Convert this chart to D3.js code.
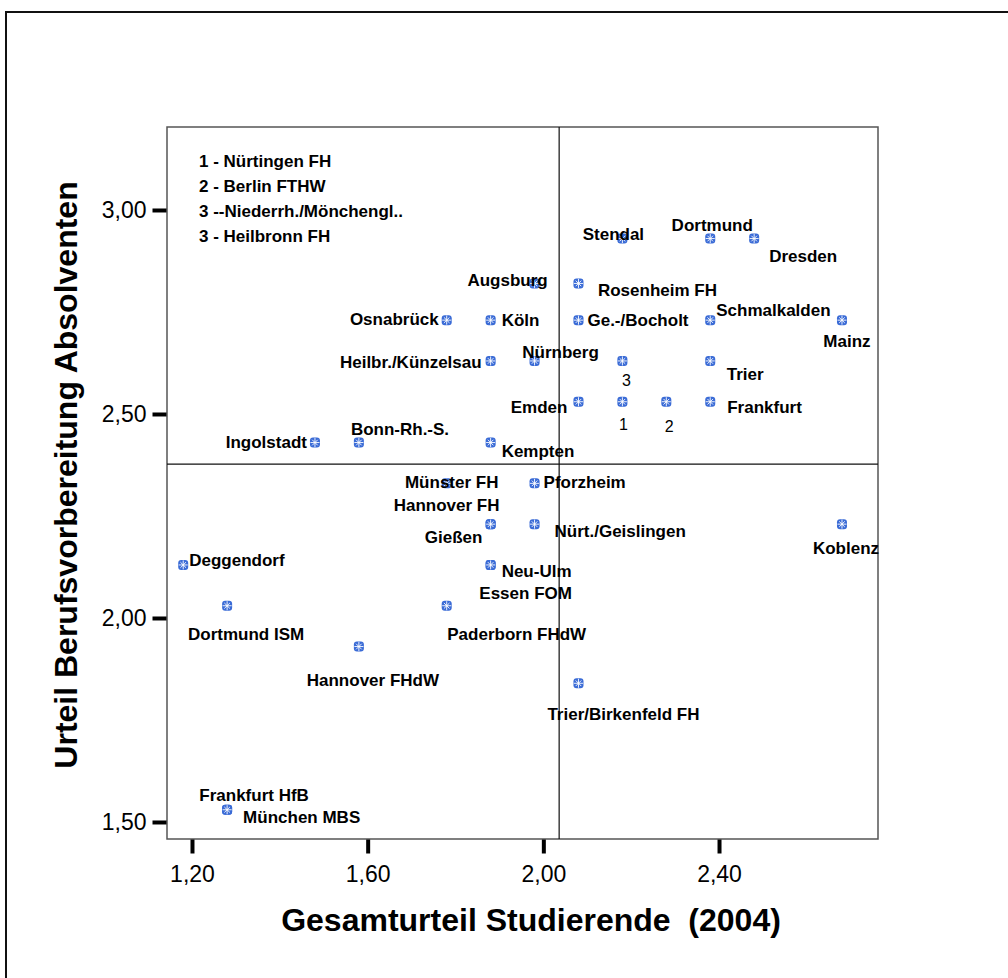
<!DOCTYPE html>
<html>
<head>
<meta charset="utf-8">
<script src="https://cdn.jsdelivr.net/npm/d3@7"></script>
<style>
  html, body { margin: 0; padding: 0; background: #fff; }
  svg { display: block; font-family: "Liberation Sans", Arial, sans-serif; }
</style>
</head>
<body>
<svg id="chart" width="1008" height="978"></svg>
<script>
// ---------- data ----------
const names = ["Stendal","Dortmund","Dresden","Augsburg","Rosenheim FH","Osnabrück","Köln","Ge.-/Bocholt",
  "Schmalkalden","Mainz","Heilbr./Künzelsau","Nürnberg","3","Trier","Emden","1","2","Frankfurt",
  "Ingolstadt","Bonn-Rh.-S.","Kempten","Münster FH","Pforzheim","Hannover FH","Gießen","Nürt./Geislingen",
  "Koblenz","Deggendorf","Neu-Ulm","Essen FOM","Dortmund ISM","Paderborn FHdW","Hannover FHdW",
  "Trier/Birkenfeld FH","Frankfurt HfB","München MBS"];
const studierende = [2.18,2.38,2.48,1.98,2.08,1.78,1.88,2.08,
  2.38,2.68,1.88,1.98,2.18,2.38,2.08,2.18,2.28,2.38,
  1.48,1.58,1.88,1.78,1.98,1.88,1.88,1.98,
  2.68,1.18,1.88,1.88,1.28,1.78,1.58,
  2.08,1.28,1.28];
const absolventen = [2.93,2.93,2.93,2.82,2.82,2.73,2.73,2.73,
  2.73,2.73,2.63,2.63,2.63,2.63,2.53,2.53,2.53,2.53,
  2.43,2.43,2.43,2.33,2.33,2.23,2.23,2.23,
  2.23,2.13,2.13,2.13,2.03,2.03,1.93,
  1.84,1.53,1.53];
const legendItems = ["1 - Nürtingen FH","2 - Berlin FTHW","3 --Niederrh./Mönchengl..","3 - Heilbronn FH"];
const xTicks = [1.2,1.6,2.0,2.4];
const yTicks = [1.5,2.0,2.5,3.0];
const xMean = 2.036;
const yMean = 2.377;
const xTitle = "Gesamturteil Studierende  (2004)";
const yTitle = "Urteil Berufsvorbereitung Absolventen";

// label placement (pixel offsets from marker, anchor)
const labelPos = [[-9,1,"middle"],[2,-8,"middle"],[49,23,"middle"],[-27,3,"middle"],[79,13,"middle"],
  [-8,5,"end"],[11,6,"start"],[9,6,"start"],[6,-4,"start"],[5,27,"middle"],[-9,7,"end"],[26,-3,"middle"],
  [4,25,"middle"],[35,19,"middle"],[-11,11,"end"],[1,28,"middle"],[3,30,"middle"],[17,11,"start"],
  [-8,5,"end"],[-8,-8,"start"],[11,14,"start"],[5,5,"middle"],[9,5,"start"],[-44,-13,"middle"],
  [-37,19,"middle"],[20,13,"start"],[4,30,"middle"],[6,1,"start"],[11,12,"start"],[35,34,"middle"],
  [19,34,"middle"],[70,34,"middle"],[14,39,"middle"],[45,37,"middle"],[27,-9,"middle"],[16,13,"start"]];

// ---------- layout ----------
const svg = d3.select("#chart");
const L = 167, T = 127, R = 878, B = 839;
const x = d3.scaleLinear().domain([1.1431, 2.762]).range([L, R]);
const y = d3.scaleLinear().domain([1.4583, 3.2034]).range([B, T]);
const fmt = v => d3.format(".2f")(v).replace(".", ",");

// outer border
svg.append("rect").attr("x", 6).attr("y", 12).attr("width", 1100).attr("height", 1100)
  .attr("fill", "none").attr("stroke", "#111").attr("stroke-width", 2);

// plot frame
svg.append("rect").attr("x", L).attr("y", T).attr("width", R - L).attr("height", B - T)
  .attr("fill", "#fff").attr("stroke", "#555").attr("stroke-width", 1.5);

// reference lines
svg.append("line").attr("x1", x(xMean)).attr("x2", x(xMean)).attr("y1", T).attr("y2", B)
  .attr("stroke", "#111").attr("stroke-width", 1.2);
svg.append("line").attr("x1", L).attr("x2", R).attr("y1", y(yMean)).attr("y2", y(yMean))
  .attr("stroke", "#111").attr("stroke-width", 1.2);

// axes
const yAxis = svg.append("g").attr("transform", `translate(${L - 0.5},0)`)
  .call(d3.axisLeft(y).tickValues(yTicks).tickFormat(fmt).tickSize(14).tickPadding(6));
const xAxis = svg.append("g").attr("transform", `translate(0,${B + 0.5})`)
  .call(d3.axisBottom(x).tickValues(xTicks).tickFormat(fmt).tickSize(14).tickPadding(12));
[yAxis, xAxis].forEach(a => {
  a.select(".domain").remove();
  a.selectAll(".tick line").attr("stroke", "#000").attr("stroke-width", 4);
  a.selectAll(".tick text").attr("fill", "#000").style("font-size", "23px")
    .style("font-family", "'Liberation Sans', Arial, sans-serif");
});

// axis titles
svg.append("text").attr("x", 531).attr("y", 931).attr("text-anchor", "middle")
  .style("font-size", "32px").style("font-weight", "bold").style("white-space", "pre")
  .text(xTitle);
svg.append("text").attr("transform", "translate(77,475) rotate(-90)").attr("text-anchor", "middle")
  .style("font-size", "32px").style("font-weight", "bold").text(yTitle);

// legend text
svg.append("g").selectAll("text").data(legendItems).join("text")
  .attr("x", 199).attr("y", (d, i) => 167 + i * 25)
  .style("font-size", "17px").style("font-weight", "bold").text(d => d);

// markers
const mk = svg.append("g").selectAll("g").data(names).join("g")
  .attr("transform", (d, i) => `translate(${x(studierende[i])},${y(absolventen[i])})`);
mk.append("rect").attr("x", -5).attr("y", -5).attr("width", 10).attr("height", 10).attr("rx", 3)
  .attr("fill", "#3a6bd6");
mk.append("path").attr("d", "M0,-4.5V4.5M-4.5,0H4.5M-2.8,-2.8L2.8,2.8M-2.8,2.8L2.8,-2.8")
  .attr("stroke", "#fff").attr("stroke-width", 0.9);

// labels
svg.append("g").selectAll("text").data(names).join("text")
  .attr("x", (d, i) => x(studierende[i]) + labelPos[i][0])
  .attr("y", (d, i) => y(absolventen[i]) + labelPos[i][1])
  .attr("text-anchor", (d, i) => labelPos[i][2])
  .style("font-size", d => /^\d$/.test(d) ? "16px" : "17px")
  .style("font-weight", d => /^\d$/.test(d) ? "normal" : "bold")
  .text(d => d);
</script>
</body>
</html>
